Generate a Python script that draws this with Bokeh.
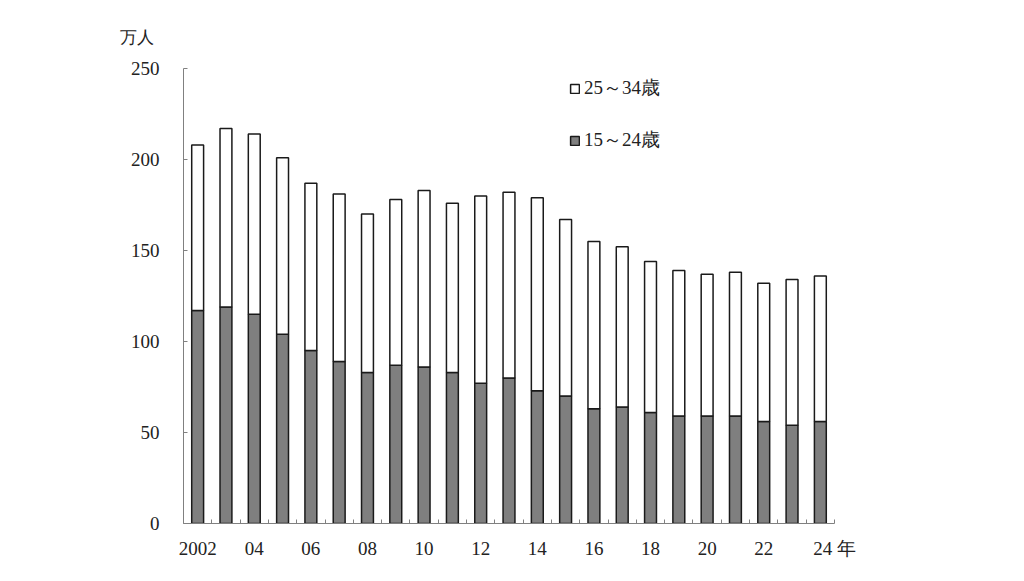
from bokeh.plotting import figure
from bokeh.models import ColumnDataSource, FixedTicker, Legend, LegendItem, Range1d
from bokeh.embed import file_html
from bokeh.resources import INLINE

years = list(range(2002, 2025))
age15_24 = [117, 119, 115, 104, 95, 89, 83, 87, 86, 83, 77, 80, 73, 70, 63, 64, 61, 59, 59, 59, 56, 54, 56]
age25_34 = [91, 98, 99, 97, 92, 92, 87, 91, 97, 93, 103, 102, 106, 97, 92, 88, 83, 80, 78, 79, 76, 80, 80]
y_ticks = [0, 50, 100, 150, 200, 250]
x_tick_years = list(range(2002, 2025, 2))
x_tick_labels = ["2002", "04", "06", "08", "10", "12", "14", "16", "18", "20", "22", "24 年"]
series_names = ["15～24歳", "25～34歳"]
unit_label = "万人"

totals = [a + b for a, b in zip(age15_24, age25_34)]
src = ColumnDataSource(dict(year=years, low=age15_24, total=totals, zero=[0] * len(years)))

FONT = "Liberation Serif"

p = figure(width=1008, height=573, output_backend="svg", toolbar_location=None,
           x_range=Range1d(2001.5, 2024.5), y_range=Range1d(0, 250))
p.min_border_left = 183
p.min_border_right = 174
p.min_border_top = 68
p.min_border_bottom = 50
p.outline_line_color = None
p.grid.visible = False
p.background_fill_color = "white"
p.border_fill_color = "white"

r_low = p.vbar(x="year", bottom="zero", top="low", width=0.42, source=src,
               fill_color="#7f7f7f", line_color="#1a1a1a", line_width=1.5)
r_up = p.vbar(x="year", bottom="low", top="total", width=0.42, source=src,
              fill_color="white", line_color="#1a1a1a", line_width=1.5)

# unit label as a left-aligned title above the frame
p.title.text = unit_label
p.title.align = "left"
p.title.offset = -64
p.title.standoff = 43
p.title.text_font = FONT
p.title.text_font_size = "17px"
p.title.text_font_style = "normal"
p.title.text_color = "#222222"

# axes
# the last label carries the 年 suffix; its tick is shifted so that "24" sits under its bar
label_ticks = x_tick_years[:-1] + [x_tick_years[-1] + 0.5]
xa = p.xaxis[0]
xa.ticker = FixedTicker(ticks=label_ticks, minor_ticks=[y - 0.5 for y in years] + [2024.5])
xa.major_label_overrides = {t: l for t, l in zip(label_ticks, x_tick_labels)}
xa.major_tick_in = 0
xa.major_tick_out = 0
xa.minor_tick_in = 4
xa.minor_tick_out = 0
xa.minor_tick_line_color = "#808080"
xa.axis_line_color = "#808080"
xa.major_label_standoff = 14
xa.major_label_text_font = FONT
xa.major_label_text_font_size = "19px"
xa.major_label_text_color = "#222222"

ya = p.yaxis[0]
ya.ticker = FixedTicker(ticks=y_ticks)
ya.major_tick_in = 4
ya.major_tick_out = 0
ya.minor_tick_in = 0
ya.minor_tick_out = 0
ya.major_tick_line_color = "#808080"
ya.axis_line_color = "#808080"
ya.major_label_standoff = 24
ya.major_label_text_font = FONT
ya.major_label_text_font_size = "19px"
ya.major_label_text_color = "#222222"

legend = Legend(items=[LegendItem(label=series_names[1], renderers=[r_up]),
                       LegendItem(label=series_names[0], renderers=[r_low])],
                location=(386, 370), padding=0, margin=0, spacing=26,
                glyph_width=11, glyph_height=11, label_standoff=4,
                label_text_font=FONT, label_text_font_size="19px", label_text_color="#222222",
                border_line_alpha=0, background_fill_alpha=0)
p.add_layout(legend, "center")

open("out.html", "w").write(file_html(p, INLINE))
